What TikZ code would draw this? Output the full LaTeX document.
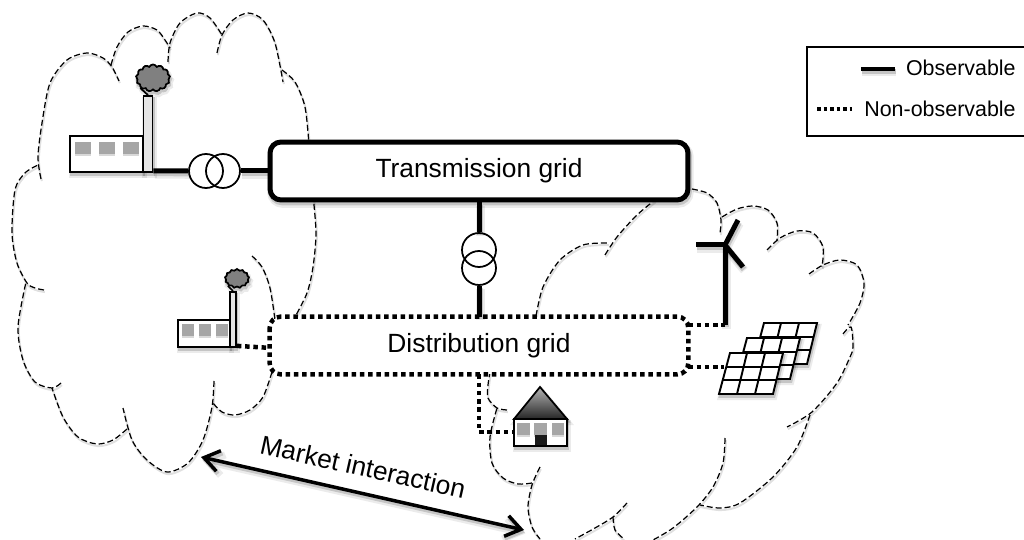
\documentclass[tikz,border=0pt]{standalone}
\usepackage{fontspec}
\setmainfont{Liberation Sans}
\usepackage{tikz}
\usetikzlibrary{arrows.meta}
\usetikzlibrary{shapes.symbols}
\tikzset{
   softshadow/.style={
      preaction={draw=black,opacity=.08,line width=#1+2pt,transform canvas={xshift=.8pt,yshift=-2pt}},
      preaction={draw=black,opacity=.16,line width=#1+.4pt,transform canvas={xshift=.6pt,yshift=-1.4pt}}},
   cloudline/.style={draw=black,line width=.7pt,dash pattern=on 3.4pt off 1.7pt,
      preaction={draw=black,opacity=.12,line width=1.1pt,solid,transform canvas={xshift=.5pt,yshift=-1.2pt}}},
   solidwire/.style={draw=black,line width=.1cm,softshadow=.1cm},
   dotwire/.style={draw=black,line width=.09cm,dash pattern=on .09cm off .075cm},
   gridbox/.style={rounded corners=.22cm,fill=white,minimum width=8.36cm,font=\fontsize{15}{18}\selectfont},
   coil/.style={circle,draw=black,line width=1pt,minimum size=.68cm,inner sep=0pt},
   wall/.style={rectangle,draw=black,line width=1pt,fill=white,inner sep=0pt,softshadow=1pt},
   pane/.style={rectangle,fill=black!35,inner sep=0pt,
      preaction={fill=black!30,opacity=.5,transform canvas={yshift=-1.4pt}}},
   smoke/.style={cloud,cloud puffs=13,cloud puff arc=130,draw=black,line width=1pt,fill=black!50,
      inner sep=0pt,aspect=1.2,softshadow=1pt},
   legendtext/.style={anchor=east,inner sep=0pt,font=\fontsize{12.2}{14}\selectfont},
}
\begin{document}
\begin{tikzpicture}[x=0.02cm,y=-0.02cm]
        \path[fill=white,use as bounding box] (0,0) rectangle (1024,540);

        % left cloud
        \draw[cloudline] plot[smooth] coordinates {(41,179) (38,157) (42,123) (50,83) (67,60) (87,53) (103,58) (112,67) (119,81)};
        \draw[cloudline] plot[smooth] coordinates {(111,65) (117,47) (128,32) (143,26) (157,30) (165,40) (170,48)};
        \draw[cloudline] plot[smooth] coordinates {(168,62) (170,43) (180,23) (197,13) (210,18) (222,35)};
        \draw[cloudline] plot[smooth] coordinates {(217,53) (222,35) (233,20) (248,13) (263,20) (275,43) (283,82)};
        \draw[cloudline] plot[smooth] coordinates {(282,70) (295,82) (305,107) (309,145)};
        \draw[cloudline] plot[smooth] coordinates {(313,195) (316,233) (313,267) (307,293) (295,317)};
        \draw[cloudline] plot[smooth] coordinates {(252,256) (262,267) (270,288) (275,320)};
        \draw[cloudline] plot[smooth] coordinates {(272,372) (263,397) (250,410) (235,415) (222,412) (213,403)};
        \draw[cloudline] plot[smooth] coordinates {(214,381) (212,407) (203,440) (188,463) (167,472) (147,460) (132,440) (123,408)};
        \draw[cloudline] plot[smooth] coordinates {(127,429) (113,440) (97,444) (78,437) (63,417) (52,388)};
        \draw[cloudline] plot[smooth] coordinates {(61,383) (52,388) (35,382) (23,360) (18,327) (26,282)};
        \draw[cloudline] plot[smooth] coordinates {(44,290) (35,288) (27,283) (17,263) (12,233) (15,190) (25,173) (38,165)};

        % right cloud
        \draw[cloudline] plot[smooth] coordinates {(536,316) (543,287) (560,260) (583,245) (608,243)};
        \draw[cloudline] plot[smooth] coordinates {(605,255) (617,237) (637,215) (655,200)};
        \draw[cloudline] plot[smooth] coordinates {(692,189) (707,193) (717,203) (721,220) (720,233)};
        \draw[cloudline] plot[smooth] coordinates {(722,217) (737,209) (753,206) (768,210) (777,223) (777,240)};
        \draw[cloudline] plot[smooth] coordinates {(767,250) (780,238) (797,231) (813,233) (823,247) (822,267)};
        \draw[cloudline] plot[smooth] coordinates {(809,274) (823,265) (840,260) (857,265) (864,283) (860,303) (848,325)};
        \draw[cloudline] plot[smooth] coordinates {(843,334) (851,327) (853,347) (850,357) (837,383) (812,412) (787,427)};
        \draw[cloudline] plot[smooth] coordinates {(810,415) (797,447) (773,477) (740,503) (720,508) (700,505)};
        \draw[cloudline] plot[smooth] coordinates {(725,438) (723,463) (713,487) (697,507) (673,528) (653,540)};
        \draw[cloudline] plot[smooth] coordinates {(627,503) (613,517) (595,528) (575,539)};
        \draw[cloudline] plot[smooth] coordinates {(613,517) (615,530) (624,539)};
        \draw[cloudline] plot[smooth] coordinates {(540,467) (532,485) (528,507) (532,527) (540,539)};
        \draw[cloudline] plot[smooth] coordinates {(532,483) (518,484) (503,478) (492,463) (490,437) (497,408)};
        \draw[cloudline] plot[smooth] coordinates {(507,410) (497,408) (488,398) (488,385) (490,372)};

        % grids
        \node[gridbox,draw=black,line width=.1cm,minimum height=1.16cm,softshadow=.1cm] (trans) at (479,171) {Transmission grid};
        \node[gridbox,minimum height=1.14cm] (dist) at (479,345.5) {Distribution grid};
        \draw[dotwire,rounded corners=.22cm] (dist.north west) rectangle (dist.south east);

        % transformers
        \node[coil] (coilA) at (206,171) {};
        \node[coil] (coilB) at (223,171) {};
        \node[coil] (coilC) at (479,250) {};
        \node[coil] (coilD) at (479,268) {};

        % big plant
        \node[wall,minimum width=1.46cm,minimum height=.72cm] (plantA) at (106.5,154) {};
        \node[wall,fill=black!10,minimum width=.18cm,minimum height=1.52cm] (stackA) at (148,134) {};
        \foreach \wx in {83,107,131}
            \node[pane,minimum width=.33cm,minimum height=.24cm] (paneA\wx) at (\wx,148) {};
        \node[smoke,minimum width=.68cm,minimum height=.54cm] (smokeA) at (153,78) {};
        \draw[line width=1pt] (stackA.north) -- (smokeA.south west);
        % small plant
        \node[wall,minimum width=1.04cm,minimum height=.54cm] (plantB) at (204,333.5) {};
        \node[wall,fill=black!10,minimum width=.12cm,minimum height=1.1cm] (stackB) at (233,319.5) {};
        \foreach \wx in {188,205,222}
            \node[pane,minimum width=.25cm,minimum height=.24cm] (paneB\wx) at (\wx,330) {};
        \node[smoke,minimum width=.48cm,minimum height=.38cm] (smokeB) at (237,278.5) {};
        \draw[line width=.9pt] (stackB.north) -- (smokeB.south west);

        % house
        \path[shade,top color=black!30,bottom color=black!85,draw=black,line width=1pt,softshadow=1pt]
            (514,419) -- (540,387) -- (567,419) -- cycle;
        \node[wall,minimum width=1.06cm,minimum height=.54cm] (house) at (540.5,432.5) {};
        \foreach \wx in {523.5,540.5,558}
            \node[pane,minimum width=.25cm,minimum height=.24cm] (paneH\wx) at (\wx,429) {};
        \node[rectangle,fill=black!90,inner sep=0pt,minimum width=.24cm,minimum height=.2cm] (door) at (541,440) {};

        % wind turbine
        \coordinate (hub) at (725,245);
        \coordinate (foot) at (725,325);
        \coordinate (bladeA) at (696,245);
        \coordinate (bladeB) at (738,220);
        \coordinate (bladeC) at (743,267);
        \draw[solidwire] (bladeA) -- (hub);
        \draw[solidwire] (bladeB) -- (hub);
        \draw[solidwire] (bladeC) -- (hub);
        \draw[solidwire] (hub) -- (foot);

        % solar panels
        \foreach \dx/\dy/\nm in {34/-30/pvC,17/-15/pvB,0/0/pvA}{
            \begin{scope}[shift={(\dx,\dy)}]
            \draw[line width=1.1pt,fill=white,softshadow=1.1pt] (719,394) -- (773,394) -- (783,353) -- (730,353) -- cycle;
            \draw[line width=1.1pt] (737,394) -- (747,353) (755,394) -- (765,353);
            \draw[line width=1.1pt] (722.5,380) -- (776.5,380) (726,367) -- (780,367);
            \coordinate (\nm) at (724,367);
            \end{scope}
        }

        % connectors
        \draw[solidwire] (stackA.south east) ++(0,-2) -- (coilA.west);
        \draw[solidwire] (coilB.east) -- (trans.west);
        \draw[solidwire] (trans.south) -- (coilC.north);
        \draw[solidwire] (coilD.south) -- (dist.north);
        \draw[dotwire] (stackB.south east) ++(0,-2) -- (dist.west |- stackB.south east);
        \coordinate (turnH) at (479,432);
        \draw[dotwire] (dist.south) -- (turnH) -- (house.west |- turnH);
        \draw[dotwire] (dist.east |- foot) -- (foot);
        \draw[dotwire] (dist.east |- pvA) -- (pvA);
        \coordinate (mktA) at (201,457);
        \coordinate (mktB) at (524,530);
        \draw[{Straight Barb[length=.3cm,width=.42cm]}-{Straight Barb[length=.3cm,width=.42cm]},line width=.07cm,softshadow=.07cm] (mktA) -- (mktB);
        \node[rotate=-12.7,inner sep=0pt,font=\fontsize{15}{18}\selectfont] (mkt) at (363,467) {Market interaction};

        % legend
        \draw[line width=.6pt] (1024,47) -- (807,47) -- (807,136) -- (1024,136);
        \node[legendtext] (obs) at (1016,68) {Observable};
        \node[legendtext] (nonobs) at (1016,109) {Non-observable};
        \coordinate (obsA) at (861,69);
        \coordinate (obsB) at (895,69);
        \coordinate (nonA) at (817,109);
        \coordinate (nonB) at (852,109);
        \draw[draw=black,line width=.07cm,softshadow=.07cm] (obsA) -- (obsB);
        \draw[draw=black,line width=.07cm,dash pattern=on .07cm off .06cm] (nonA) -- (nonB);
\end{tikzpicture}
\end{document}
